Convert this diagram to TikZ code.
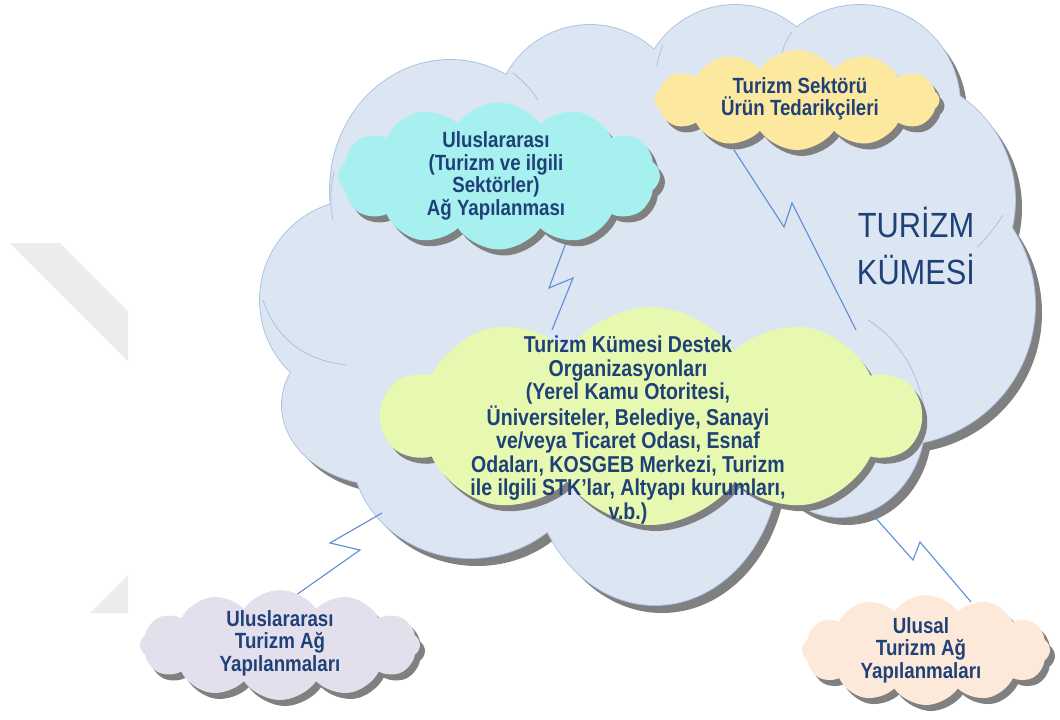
\documentclass[tikz,border=0pt]{standalone}
\usepackage{fontspec}
\setmainfont{Liberation Sans}
\newfontfamily\cf[FakeStretch=0.85]{Liberation Sans}
\newfontfamily\nf[FakeStretch=0.88]{Liberation Sans}
\usetikzlibrary{shapes.symbols,shadows}
\definecolor{wmc}{HTML}{ECECEC}
\definecolor{bigfill}{HTML}{DCE6F2}
\definecolor{bigline}{HTML}{A9C2E2}
\definecolor{shadowc}{HTML}{808080}
\definecolor{cyanc}{HTML}{A6F0F0}
\definecolor{yelc}{HTML}{FDE8A0}
\definecolor{grnc}{HTML}{E7F8B0}
\definecolor{purc}{HTML}{E4DFEC}
\definecolor{peac}{HTML}{FDE9D9}
\definecolor{txtc}{HTML}{1F4178}
\definecolor{connc}{HTML}{5B8ED6}
\newcommand\bigcloudpath{%
  (360pt,-300pt) circle[radius=100pt]
  (385pt,-405pt) ellipse[x radius=103pt,y radius=80pt]
  (470pt,-450pt) ellipse[x radius=118pt,y radius=108pt]
  (655pt,-455pt) ellipse[x radius=125pt,y radius=150pt]
  (840pt,-420pt) ellipse[x radius=85pt,y radius=97pt]
  (895pt,-305pt) circle[radius=140pt]
  (890pt,-200pt) circle[radius=125pt]
  (860pt,-105pt) circle[radius=100pt]
  (735pt,-100pt) circle[radius=95pt]
  (590pt,-120pt) circle[radius=95pt]
  (450pt,-190pt) ellipse[x radius=120pt,y radius=130pt]
  (650pt,-300pt) ellipse[x radius=320pt,y radius=200pt]}
\tikzset{
  puffy/.style={cloud, cloud puffs=12, cloud puff arc=110, cloud ignores aspect,
    draw=none, inner sep=0pt,
    drop shadow={shadow xshift=5pt, shadow yshift=-6pt, fill=shadowc, opacity=1}},
  txt/.style={font=\cf\bfseries\fontsize{22}{22.5}\selectfont, text=txtc, align=center, inner sep=0pt},
  zig/.style={draw=connc, line width=1.1pt, line join=miter},
  inarc/.style={draw=bigline, line width=0.8pt}
}
\begin{document}
\begin{tikzpicture}[x=1pt,y=-1pt]
\useasboundingbox (0,0) rectangle (1060,720);
% faint watermark
\begin{scope}
\clip (0,0) rectangle (128,720);
\fill[wmc] (10,243) -- (60,243) -- (200,383) -- (150,383) -- cycle;
\fill[wmc] (90,613) -- (140,613) -- (240,513) -- (190,513) -- cycle;
\end{scope}
% big cloud
\fill[shadowc] [shift={(7pt,-8pt)}] \bigcloudpath;
\draw[bigline, line width=1.8pt] \bigcloudpath;
\fill[bigfill] \bigcloudpath;
% faint inner arcs of the big cloud
\draw[inarc] (868,320) .. controls (900,340) and (920,375) .. (925,415);
\draw[inarc] (977,247) .. controls (988,237) and (996,226) .. (1003,215);
\draw[inarc] (263,300) .. controls (275,335) and (300,360) .. (347,365);
\draw[inarc] (333,220) .. controls (330,205) and (330,190) .. (334,172);
\draw[inarc] (513,73) .. controls (522,80) and (532,90) .. (538,100);
\draw[inarc] (657,67) .. controls (658,58) and (660,52) .. (663,45);
\draw[inarc] (782,53) .. controls (784,45) and (787,39) .. (792,32);
\node[font=\nf\fontsize{35}{47}\selectfont, text=txtc, align=center] (title) at (916,246) {TURİZM\\KÜMESİ};
% connector end points
\coordinate (a1) at (567,240); \coordinate (a2) at (549,288); \coordinate (a3) at (573,278); \coordinate (a4) at (552,330);
\coordinate (b1) at (734,150); \coordinate (b2) at (784,227); \coordinate (b3) at (792,203); \coordinate (b4) at (856,330);
\coordinate (c1) at (382,513); \coordinate (c2) at (330,543); \coordinate (c3) at (360,550); \coordinate (c4) at (289,600);
\coordinate (d1) at (873,515); \coordinate (d2) at (913,560); \coordinate (d3) at (920,542); \coordinate (d4) at (971,602);
\draw[zig] (a1) -- (a2) -- (a3) -- (a4);
\draw[zig] (b1) -- (b2) -- (b3) -- (b4);
\draw[zig] (c1) -- (c2) -- (c3) -- (c4);
\draw[zig] (d1) -- (d2) -- (d3) -- (d4);
% small clouds
\node[puffy, fill=cyanc, minimum width=322pt, minimum height=147pt] (cy) at (499,176) {};
\node[txt] (cyt) at (496,176) {Uluslararası\\(Turizm ve ilgili\\Sektörler)\\Ağ Yapılanması};
\node[puffy, fill=yelc, minimum width=285pt, minimum height=100pt] (ye) at (797,100) {};
\node[txt] (yet) at (800,99) {Turizm Sektörü\\Ürün Tedarikçileri};
\node[puffy, cloud puffs=10, fill=grnc, minimum width=538pt, minimum height=218pt] (gr) at (651,416) {};
\node[txt, font=\cf\bfseries\fontsize{23}{23.6}\selectfont] (grt) at (628,430) {Turizm Kümesi Destek\\Organizasyonları\\(Yerel Kamu Otoritesi,\\Üniversiteler, Belediye, Sanayi\\ve/veya Ticaret Odası, Esnaf\\Odaları, KOSGEB Merkezi, Turizm\\ile ilgili STK’lar, Altyapı kurumları,\\v.b.)};
\node[puffy, fill=purc, minimum width=280pt, minimum height=110pt] (pu) at (280,645) {};
\node[txt] (put) at (280,643) {Uluslararası\\Turizm Ağ\\Yapılanmaları};
\node[puffy, fill=peac, minimum width=248pt, minimum height=110pt] (pe) at (926,650) {};
\node[txt] (pet) at (921,650) {Ulusal\\Turizm Ağ\\Yapılanmaları};
\end{tikzpicture}
\end{document}
